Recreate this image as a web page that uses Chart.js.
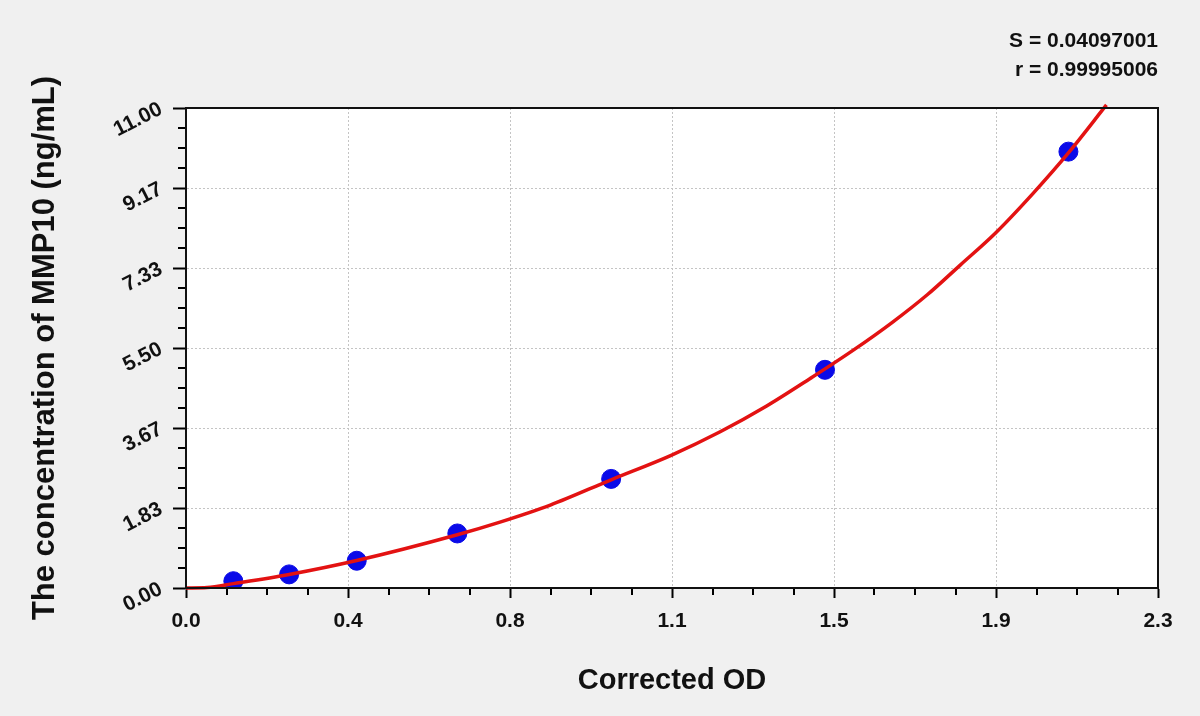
<!DOCTYPE html>
<html>
<head>
<meta charset="utf-8">
<script src="https://cdn.jsdelivr.net/npm/chart.js@4.4.1/dist/chart.umd.min.js"></script>
<style>
  html, body { margin: 0; padding: 0; background: #f0f0f0; }
  #wrap { width: 1200px; height: 716px; }
</style>
</head>
<body>
<div id="wrap"><canvas id="stdCurve" width="1200" height="716"></canvas></div>
<script>
// -------------------- Data
// Standards (corrected OD / concentration ng/mL)
const stdOD = [0.112, 0.244, 0.404, 0.642, 1.006, 1.512, 2.088];
const stdConc = [0.156, 0.312, 0.625, 1.25, 2.5, 5, 10];

// Fitted curve, read point by point
const fitOD = [0.000, 0.050, 0.112, 0.244, 0.404, 0.642, 0.743, 0.862, 1.006, 1.148, 1.264,
               1.374, 1.477, 1.579, 1.673, 1.754, 1.832, 1.915, 2.005, 2.088, 2.178];
const fitConc = [0.00, 0.01, 0.10, 0.31, 0.63, 1.22, 1.51, 1.90, 2.48, 3.04, 3.58,
                 4.17, 4.80, 5.45, 6.10, 6.72, 7.40, 8.13, 9.05, 9.97, 11.07];

// Axis tick labels (as printed)
const xTickLabels = ['0.0', '0.4', '0.8', '1.1', '1.5', '1.9', '2.3'];
const yTickLabels = ['0.00', '1.83', '3.67', '5.50', '7.33', '9.17', '11.00'];
const xMax = 2.3;
const yMax = 11;

const statLines = ['S = 0.04097001', 'r = 0.99995006'];

const FONT = "'Liberation Sans', Arial, sans-serif";

// -------------------- Plot background, frame, minor ticks, stats
const plotDecor = {
    id: 'plotDecor',
    beforeDraw(chart) {
        const { ctx, chartArea: a } = chart;
        ctx.save();
        ctx.fillStyle = '#f0f0f0';
        ctx.fillRect(0, 0, chart.width, chart.height);
        ctx.fillStyle = '#ffffff';
        ctx.fillRect(a.left, a.top, a.right - a.left, a.bottom - a.top);
        ctx.restore();
    },
    afterDraw(chart) {
        const { ctx, chartArea: a, scales: { x, y } } = chart;
        ctx.save();
        ctx.strokeStyle = '#000';
        ctx.lineWidth = 2;

        // minor ticks, 4 subdivisions between labelled ticks
        ctx.beginPath();
        const xStep = xMax / (xTickLabels.length - 1) / 4;
        for (let i = 1; i < (xTickLabels.length - 1) * 4; i++) {
            if (i % 4 === 0) continue;
            const px = Math.round(x.getPixelForValue(i * xStep));
            ctx.moveTo(px, a.bottom);
            ctx.lineTo(px, a.bottom + 7);
        }
        const yStep = yMax / (yTickLabels.length - 1) / 4;
        for (let i = 1; i < (yTickLabels.length - 1) * 4; i++) {
            if (i % 4 === 0) continue;
            const py = Math.round(y.getPixelForValue(i * yStep));
            ctx.moveTo(a.left, py);
            ctx.lineTo(a.left - 8, py);
        }
        ctx.stroke();

        // frame round the plot
        ctx.strokeStyle = '#111';
        ctx.strokeRect(a.left, a.top, a.right - a.left, a.bottom - a.top);

        // fit statistics, top right
        ctx.fillStyle = '#111';
        ctx.font = 'bold 21px ' + FONT;
        ctx.textAlign = 'right';
        ctx.textBaseline = 'alphabetic';
        ctx.fillText(statLines[0], a.right, 47);
        ctx.fillText(statLines[1], a.right, 76);
        ctx.restore();
    }
};

const tickFont = { family: FONT, size: 21, weight: 'bold' };

new Chart(document.getElementById('stdCurve'), {
    type: 'scatter',
    data: {
        datasets: [
            {
                data: fitOD.map((v, i) => ({ x: v, y: fitConc[i] })),
                showLine: true,
                borderColor: '#e31212',
                borderWidth: 3.5,
                pointRadius: 0,
                cubicInterpolationMode: 'monotone',
                clip: 6,
                order: 0
            },
            {
                data: stdOD.map((v, i) => ({ x: v, y: stdConc[i] })),
                backgroundColor: '#0a0ae8',
                borderColor: '#0a0ae8',
                borderWidth: 1,
                pointRadius: 9.5,
                order: 1
            }
        ]
    },
    options: {
        responsive: false,
        animation: false,
        devicePixelRatio: 1,
        layout: { padding: { top: 108, right: 42, left: 0, bottom: 0 } },
        plugins: {
            legend: { display: false },
            tooltip: { enabled: false }
        },
        scales: {
            x: {
                type: 'linear',
                min: 0,
                max: xMax,
                afterBuildTicks: (s) => {
                    s.ticks = xTickLabels.map((_, i) => ({ value: i * xMax / (xTickLabels.length - 1) }));
                },
                afterFit: (s) => { s.height = 128; },
                ticks: {
                    callback: (v, i) => xTickLabels[i],
                    color: '#111',
                    font: tickFont,
                    padding: 11,
                    maxRotation: 0,
                    autoSkip: false
                },
                grid: { color: '#c4c4c4', lineWidth: 1, tickColor: '#000', tickWidth: 2, tickLength: 10 },
                border: { color: '#000', width: 2, dash: [2, 2] },
                title: {
                    display: true,
                    text: 'Corrected OD',
                    color: '#111',
                    font: { family: FONT, size: 29, weight: 'bold' },
                    padding: { top: 0, bottom: 18 }
                }
            },
            y: {
                type: 'linear',
                min: 0,
                max: yMax,
                afterBuildTicks: (s) => {
                    s.ticks = yTickLabels.map((_, i) => ({ value: i * yMax / (yTickLabels.length - 1) }));
                },
                afterFit: (s) => { s.width = 186; },
                ticks: {
                    callback: (v, i) => yTickLabels[i],
                    color: '#111',
                    font: tickFont,
                    padding: 12,
                    minRotation: 27,
                    maxRotation: 27,
                    autoSkip: false
                },
                grid: { color: '#c4c4c4', lineWidth: 1, tickColor: '#000', tickWidth: 2, tickLength: 13 },
                border: { color: '#000', width: 2, dash: [2, 2] },
                title: {
                    display: true,
                    text: 'The concentration of MMP10 (ng/mL)',
                    color: '#111',
                    font: { family: FONT, size: 31, weight: 'bold' },
                    padding: { top: 27, bottom: 0 }
                }
            }
        }
    },
    plugins: [plotDecor]
});
</script>
</body>
</html>
